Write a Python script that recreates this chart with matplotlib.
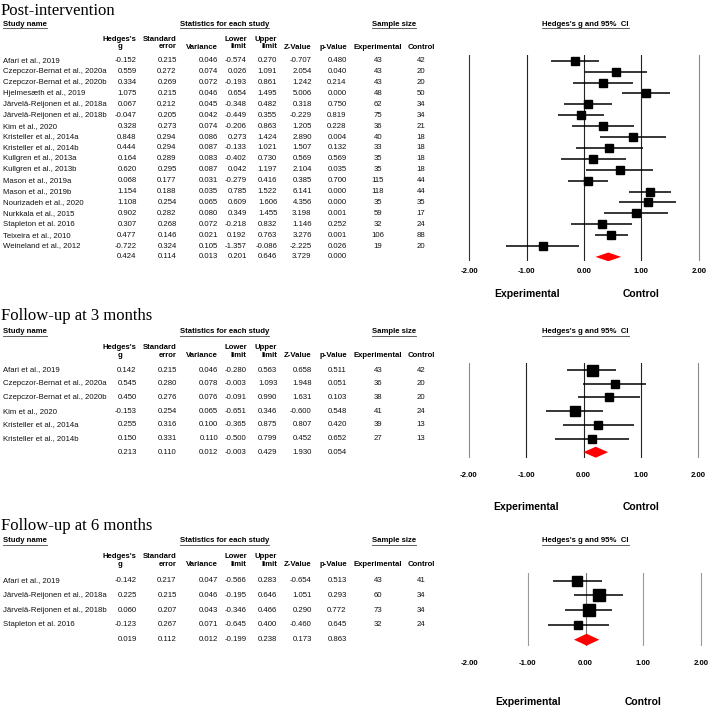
import numpy as np
import matplotlib
matplotlib.use("Agg")
import matplotlib.pyplot as plt
from matplotlib.patches import Polygon
from matplotlib.transforms import blended_transform_factory

# ---------------------------------------------------------------- data
studies1 = ["Afari et al., 2019", "Czepczor-Bernat et al., 2020a", "Czepczor-Bernat et al., 2020b",
            "Hjelmesæth et al., 2019", "Järvelä-Reijonen et al., 2018a", "Järvelä-Reijonen et al., 2018b",
            "Kim et al., 2020", "Kristeller et al., 2014a", "Kristeller et al., 2014b",
            "Kullgren et al., 2013a", "Kullgren et al., 2013b", "Mason et al., 2019a",
            "Mason et al., 2019b", "Nourizadeh et al., 2020", "Nurkkala et al., 2015",
            "Stapleton et al. 2016", "Teixeira et al., 2010", "Weineland et al., 2012"]
g1 = [-0.152, 0.559, 0.334, 1.075, 0.067, -0.047, 0.328, 0.848, 0.444, 0.164, 0.620, 0.068,
      1.154, 1.108, 0.902, 0.307, 0.477, -0.722]
se1 = [0.215, 0.272, 0.269, 0.215, 0.212, 0.205, 0.273, 0.294, 0.294, 0.289, 0.295, 0.177,
       0.188, 0.254, 0.282, 0.268, 0.146, 0.324]
var1 = [0.046, 0.074, 0.072, 0.046, 0.045, 0.042, 0.074, 0.086, 0.087, 0.083, 0.087, 0.031,
        0.035, 0.065, 0.080, 0.072, 0.021, 0.105]
lo1 = [-0.574, 0.026, -0.193, 0.654, -0.348, -0.449, -0.206, 0.273, -0.133, -0.402, 0.042, -0.279,
       0.785, 0.609, 0.349, -0.218, 0.192, -1.357]
hi1 = [0.270, 1.091, 0.861, 1.495, 0.482, 0.355, 0.863, 1.424, 1.021, 0.730, 1.197, 0.416,
       1.522, 1.606, 1.455, 0.832, 0.763, -0.086]
z1 = [-0.707, 2.054, 1.242, 5.006, 0.318, -0.229, 1.205, 2.890, 1.507, 0.569, 2.104, 0.385,
      6.141, 4.356, 3.198, 1.146, 3.276, -2.225]
p1 = [0.480, 0.040, 0.214, 0.000, 0.750, 0.819, 0.228, 0.004, 0.132, 0.569, 0.035, 0.700,
      0.000, 0.000, 0.001, 0.252, 0.001, 0.026]
ne1 = [43, 43, 43, 48, 62, 75, 36, 40, 33, 35, 35, 115, 118, 35, 59, 32, 106, 19]
nc1 = [42, 20, 20, 50, 34, 34, 21, 18, 18, 18, 18, 44, 44, 35, 17, 24, 88, 20]
summary1 = [0.424, 0.114, 0.013, 0.201, 0.646, 3.729, 0.000]

studies2 = ["Afari et al., 2019", "Czepczor-Bernat et al., 2020a", "Czepczor-Bernat et al., 2020b",
            "Kim et al., 2020", "Kristeller et al., 2014a", "Kristeller et al., 2014b"]
g2 = [0.142, 0.545, 0.450, -0.153, 0.255, 0.150]
se2 = [0.215, 0.280, 0.276, 0.254, 0.316, 0.331]
var2 = [0.046, 0.078, 0.076, 0.065, 0.100, 0.110]
lo2 = [-0.280, -0.003, -0.091, -0.651, -0.365, -0.500]
hi2 = [0.563, 1.093, 0.990, 0.346, 0.875, 0.799]
z2 = [0.658, 1.948, 1.631, -0.600, 0.807, 0.452]
p2 = [0.511, 0.051, 0.103, 0.548, 0.420, 0.652]
ne2 = [43, 36, 38, 41, 39, 27]
nc2 = [42, 20, 20, 24, 13, 13]
summary2 = [0.213, 0.110, 0.012, -0.003, 0.429, 1.930, 0.054]

studies3 = ["Afari et al., 2019", "Järvelä-Reijonen et al., 2018a", "Järvelä-Reijonen et al., 2018b",
            "Stapleton et al. 2016"]
g3 = [-0.142, 0.225, 0.060, -0.123]
se3 = [0.217, 0.215, 0.207, 0.267]
var3 = [0.047, 0.046, 0.043, 0.071]
lo3 = [-0.566, -0.195, -0.346, -0.645]
hi3 = [0.283, 0.646, 0.466, 0.400]
z3 = [-0.654, 1.051, 0.290, -0.460]
p3 = [0.513, 0.293, 0.772, 0.645]
ne3 = [43, 60, 73, 32]
nc3 = [41, 34, 34, 24]
summary3 = [0.019, 0.112, 0.012, -0.199, 0.238, 0.173, 0.863]

titles = ["Post-intervention", "Follow-up at 3 months", "Follow-up at 6 months"]
ticks = [-2, -1, 0, 1, 2]
tick_labels = ["-2.00", "-1.00", "0.00", "1.00", "2.00"]

# ---------------------------------------------------------------- layout (pixels)
W, H = 709, 708
SANS = "Liberation Sans"
SERIF = "Liberation Serif"
FS = 5.6

col_right = [136.7, 176.7, 218.3, 246.7, 277.3, 311.7, 346.7]
exp_x, ctl_x = 378, 421

panels = [
    dict(title_y=15, head_y=24, h1=38.3, h2=47.7, row0=60.7, sp=10.9,
         x0=584, unit=57.4, box=8.3, power=0.25, pad=4.5, lab_y=294,
         lines={-2: "#333333", -1: "#222222", 0: "#222222", 1: "#222222", 2: "#8a8a8a"}),
    dict(title_y=320, head_y=331.7, h1=346.7, h2=355.7, row0=370, sp=13.7,
         x0=583.5, unit=57.4, box=11, power=0.5, pad=10, lab_y=506.7,
         lines={-2: "#8a8a8a", -1: "#222222", 0: "#222222", 1: "#222222", 2: "#8a8a8a"}),
    dict(title_y=530.5, head_y=541, h1=555.7, h2=565, row0=580.7, sp=14.75,
         x0=585.5, unit=57.9, box=11.5, power=0.5, pad=10.5, lab_y=702.3,
         lines={-1: "#9a9a9a", 0: "#777777", 1: "#9a9a9a", 2: "#9a9a9a"}),
]
data = [
    (studies1, g1, se1, var1, lo1, hi1, z1, p1, ne1, nc1, summary1),
    (studies2, g2, se2, var2, lo2, hi2, z2, p2, ne2, nc2, summary2),
    (studies3, g3, se3, var3, lo3, hi3, z3, p3, ne3, nc3, summary3),
]


def re_weights(g, v):
    """DerSimonian-Laird random-effects weights."""
    g, v = np.asarray(g), np.asarray(v)
    w = 1 / v
    gbar = (w * g).sum() / w.sum()
    q = (w * (g - gbar) ** 2).sum()
    c = w.sum() - (w ** 2).sum() / w.sum()
    tau2 = max(0.0, (q - (len(g) - 1)) / c)
    return 1 / (v + tau2)


fig = plt.figure(figsize=(W / 100, H / 100), dpi=100)
ov = fig.add_axes([0, 0, 1, 1])
ov.set_xlim(0, W)
ov.set_ylim(H, 0)
ov.axis("off")

underlined = []

for k, (lay, (names, g, se, var, lo, hi, z, p, ne, nc, summ)) in enumerate(zip(panels, data)):
    n = len(names)
    sp, row0 = lay["sp"], lay["row0"]
    top_px = row0 - 0.5 * sp
    bot_px = row0 + (n + 0.4) * sp
    left_px = lay["x0"] - 2.05 * lay["unit"]
    width_px = 4.1 * lay["unit"]
    fax = fig.add_axes([left_px / W, 1 - bot_px / H, width_px / W, (bot_px - top_px) / H])
    fax.set_xlim(-2.05, 2.05)
    fax.set_ylim(n + 0.4, -0.5)
    fax.patch.set_alpha(0)
    for s in fax.spines.values():
        s.set_visible(False)
    fax.set_yticks([])
    fax.set_xticks(ticks)
    fax.set_xticklabels(tick_labels, fontsize=FS, fontweight="bold", family=SANS)
    fax.tick_params(axis="x", length=0, pad=lay["pad"])
    for xv, col in lay["lines"].items():
        fax.axvline(xv, color=col, lw=0.8, zorder=1)

    rows = np.arange(n)
    fax.hlines(rows, lo, hi, color="black", lw=1.1, zorder=2)
    w = re_weights(g, var)
    sides = lay["box"] * (w / w.max()) ** lay["power"] * 0.72
    for r, gv, s in zip(rows, g, sides):
        fax.plot(gv, r, marker="s", ms=s, color="black", mec="black", zorder=3, clip_on=False)
    est, slo, shi = summ[0], summ[3], summ[4]
    dia = Polygon([(slo, n), (est, n - 0.4), (shi, n), (est, n + 0.4)],
                  closed=True, color="red", lw=0, zorder=3)
    fax.add_patch(dia)

    # table text (x in pixels, y in forest rows)
    tr = blended_transform_factory(ov.transData, fax.transData)
    kw = dict(fontsize=FS, family=SANS, va="center", transform=tr, color="#111111")
    for i in range(n):
        ov.text(3.3, i, names[i], ha="left", **kw)
        vals = [g[i], se[i], var[i], lo[i], hi[i], z[i], p[i]]
        for xr, v in zip(col_right, vals):
            ov.text(xr, i, f"{v:.3f}", ha="right", **kw)
        ov.text(exp_x, i, str(ne[i]), ha="center", **kw)
        ov.text(ctl_x, i, str(nc[i]), ha="center", **kw)
    for xr, v in zip(col_right, summ):
        ov.text(xr, n, f"{v:.3f}", ha="right", **kw)

    # titles and headers
    ov.text(1, lay["title_y"], titles[k], family=SERIF, fontsize=12, ha="left", va="baseline")
    hk = dict(fontsize=FS, family=SANS, fontweight="bold", va="center")
    for x, s, ha in [(3.3, "Study name", "left"), (224.7, "Statistics for each study", "center"),
                     (394, "Sample size", "center"), (585.3, "Hedges's g and 95%  CI", "center")]:
        underlined.append(ov.text(x, lay["head_y"], s, ha=ha, **hk))
    h1, h2 = lay["h1"], lay["h2"]
    ov.text(col_right[0], (h1 + h2) / 2, "Hedges's\ng", ha="right", multialignment="center",
            linespacing=1.15, **hk)
    ov.text(col_right[1], (h1 + h2) / 2, "Standard\nerror", ha="right", multialignment="right",
            linespacing=1.15, **hk)
    ov.text(col_right[2], h2, "Variance", ha="right", **hk)
    ov.text(col_right[3], (h1 + h2) / 2, "Lower\nlimit", ha="right", multialignment="right",
            linespacing=1.15, **hk)
    ov.text(col_right[4], (h1 + h2) / 2, "Upper\nlimit", ha="right", multialignment="right",
            linespacing=1.15, **hk)
    ov.text(col_right[5], h2, "Z-Value", ha="right", **hk)
    ov.text(col_right[6], h2, "p-Value", ha="right", **hk)
    ov.text(exp_x, h2, "Experimental", ha="center", **hk)
    ov.text(ctl_x, h2, "Control", ha="center", **hk)

    # favours labels
    lt = blended_transform_factory(fax.transData, ov.transData)
    ov.text(-1, lay["lab_y"], "Experimental", transform=lt, ha="center", va="center",
            fontsize=7.5, fontweight="bold", family=SANS)
    ov.text(1, lay["lab_y"], "Control", transform=lt, ha="center", va="center",
            fontsize=7.5, fontweight="bold", family=SANS)

# underline the section headers
fig.canvas.draw()
inv = ov.transData.inverted()
for t in underlined:
    bb = t.get_window_extent()
    (xa, ya), (xb, _) = inv.transform([(bb.x0, bb.y0), (bb.x1, bb.y0)])
    ov.plot([xa, xb], [ya + 0.3, ya + 0.3], color="#444444", lw=0.6)

fig.savefig("out.png", dpi=100)
